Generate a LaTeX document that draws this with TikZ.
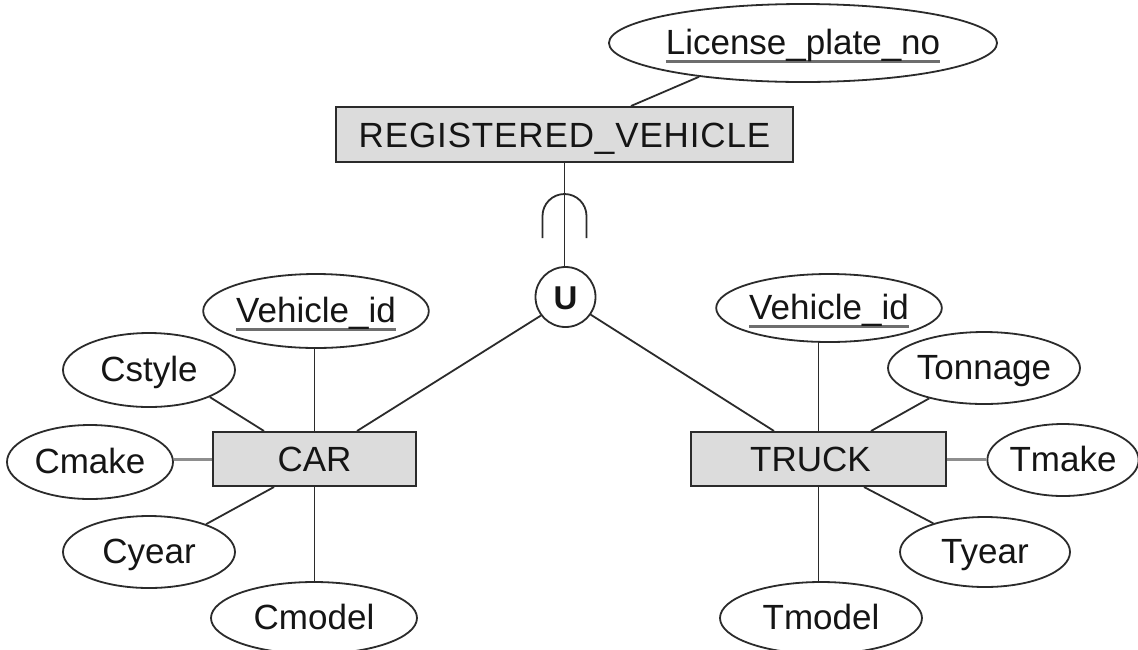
\documentclass[tikz,border=0pt]{standalone}
\usepackage{fontspec}
\setmainfont{Liberation Sans}
\usetikzlibrary{shapes.geometric,calc}

\definecolor{ink}{HTML}{2B2B2B}
\definecolor{txt}{HTML}{151515}
\definecolor{boxfill}{HTML}{DCDCDC}
\definecolor{ulgrey}{HTML}{6E6E6E}
\definecolor{softline}{HTML}{8E8E8E}

% key attribute: word with a grey rule underneath
\newcommand\ulword[1]{\setbox0\hbox{#1}\leavevmode\rlap{\textcolor{ulgrey}{\rule[-8.5pt]{\wd0}{2.4pt}}}\box0}

\tikzset{
  entity/.style={draw=ink, line width=2pt, fill=boxfill, inner sep=0pt,
    text=txt, font=\fontsize{35}{40}\selectfont, text height=25pt, text depth=0pt},
  attr/.style={ellipse, draw=ink, line width=1.8pt, inner sep=0pt, fill=white,
    text=txt, font=\fontsize{35}{40}\selectfont, text height=25pt, text depth=3pt},
  unionnode/.style={circle, draw=ink, line width=1.8pt, inner sep=0pt, fill=white,
    minimum size=60pt, text=txt, font=\bfseries\fontsize{33}{36}\selectfont,
    text height=24pt, text depth=0pt},
  link/.style={draw=ink, line width=1.8pt},
  softlink/.style={draw=softline, line width=3pt}
}

\begin{document}
\begin{tikzpicture}[x=1pt, y=-1pt]
\fill[white] (0,0) rectangle (1138,649);
\useasboundingbox (0,0) rectangle (1138,649);

% superclass and its key
\node[entity, minimum width=457pt, minimum height=55pt] (rv) at (564.5,134.5) {\addfontfeature{LetterSpace=2.5}REGISTERED\_VEHICLE};
\node[attr, minimum width=356pt, minimum height=78pt] (lp) at (803,43) {\ulword{License\_plate\_no}};

% union (category) circle
\node[unionnode] (u) at (565.5,297) {U};

% subclasses
\node[entity, minimum width=203pt, minimum height=54pt] (car) at (314.5,459) {CAR};
\node[entity, minimum width=255pt, minimum height=54pt] (truck) at (818.5,459) {TRUCK\hspace*{16pt}};

% CAR attributes
\node[attr, minimum width=212pt, minimum height=74pt] (cvid) at (316,311) {\ulword{Vehicle\_id}};
\node[attr, minimum width=172pt, minimum height=74pt] (cstyle) at (149,370) {Cstyle};
\node[attr, minimum width=166pt, minimum height=74pt] (cmake) at (90,462) {Cmake};
\node[attr, minimum width=172pt, minimum height=72pt] (cyear) at (149,552) {Cyear};
\node[attr, minimum width=206pt, minimum height=72pt] (cmodel) at (314,618) {Cmodel};

% TRUCK attributes
\node[attr, minimum width=218pt, minimum height=68pt] (tvid) at (829,308) {\ulword{Vehicle\_id}};
\node[attr, minimum width=192pt, minimum height=72pt] (tonnage) at (984,368) {Tonnage};
\node[attr, minimum width=148pt, minimum height=72pt] (tmake) at (1063,460) {Tmake};
\node[attr, minimum width=170pt, minimum height=70pt] (tyear) at (985,552) {Tyear};
\node[attr, minimum width=202pt, minimum height=72pt] (tmodel) at (821,618) {Tmodel};

% superclass links
\draw[link] ($(rv.north west)+(296,0)$) -- (lp.198);
\draw[link] (rv.south) -- (rv.south |- u.north);
% subset mark on the superclass line
\draw[link] (542.5,238) -- (542.5,216) arc[start angle=180, end angle=360, radius=22] -- (586.5,238);

% union to subclasses
\draw[link] (u.217) -- ($(car.north west)+(145,0)$);
\draw[link] (u.325) -- ($(truck.north west)+(84,0)$);

% CAR attribute links
\draw[link] (car.north) -- (car.north |- cvid.south);
\draw[link] (cstyle.336) -- ($(car.north west)+(52,0)$);
\draw[softlink] (car.west) -- (car.west -| cmake.east);
\draw[link] (cyear.26) -- ($(car.south west)+(62,0)$);
\draw[link] (car.south) -- (car.south |- cmodel.north);

% TRUCK attribute links
\draw[link] (truck.north) -- (truck.north |- tvid.south);
\draw[link] (tonnage.209) -- ($(truck.north west)+(181,0)$);
\draw[softlink] (truck.east) -- (truck.east -| tmake.west);
\draw[link] (tyear.151) -- ($(truck.south west)+(174,0)$);
\draw[link] (truck.south) -- (truck.south |- tmodel.north);
\end{tikzpicture}
\end{document}
